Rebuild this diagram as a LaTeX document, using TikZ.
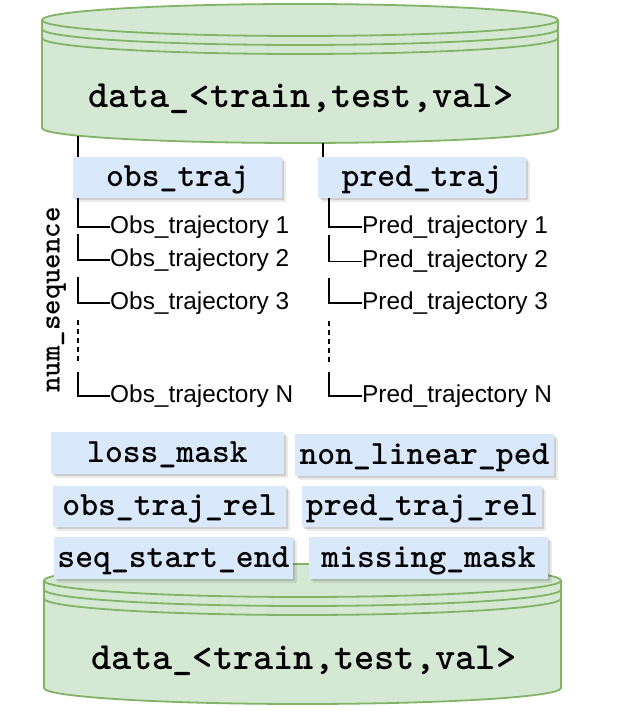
\documentclass[tikz,border=0pt]{standalone}
\usepackage{fontspec}
\newfontfamily\arialf{Liberation Sans}
\usetikzlibrary{shadows}
\definecolor{cylfill}{HTML}{D5E8D4}
\definecolor{cyldraw}{HTML}{82B366}
\definecolor{boxfill}{HTML}{DAE8FC}
\tikzset{
  cyl/.style={draw=cyldraw, line width=1.8pt, fill=cylfill},
  cylline/.style={draw=cyldraw, line width=1.8pt},
  dbtitle/.style={font=\fontsize{38.5}{40}\selectfont\ttfamily\bfseries, anchor=base, inner sep=0pt},
  field/.style={fill=boxfill, inner sep=0pt,
    font=\fontsize{34}{36}\selectfont\ttfamily\bfseries,
    text height=22pt, text depth=3pt,
    drop shadow={shadow xshift=2pt, shadow yshift=-2pt, opacity=.12, fill=black},
    drop shadow={shadow xshift=4pt, shadow yshift=-4pt, opacity=.08, fill=black}},
  traj/.style={font=\arialf\fontsize{24.4}{26}\selectfont, anchor=west, inner sep=0pt},
  tree/.style={line width=1.3pt, black},
}
\begin{document}
\begin{tikzpicture}[x=1pt, y=1pt]
\useasboundingbox[fill=white] (0,0) rectangle (621,711);

% top cylinder
\path[cyl] (42,691) arc[start angle=180, end angle=0, x radius=258, y radius=16]
  -- (558,583) arc[start angle=0, end angle=-180, x radius=258, y radius=15] -- cycle;
\draw[cylline] (42,691) arc[start angle=180, end angle=360, x radius=258, y radius=16];
\draw[cylline] (42,682) arc[start angle=180, end angle=360, x radius=258, y radius=16];
\draw[cylline] (42,673) arc[start angle=180, end angle=360, x radius=258, y radius=16];
\node[dbtitle] (ttop) at (301,603) {data\_<train,test,val>};

% bottom cylinder
\path[cyl] (44,130.5) arc[start angle=180, end angle=0, x radius=258.5, y radius=16.5]
  -- (561,23) arc[start angle=0, end angle=-180, x radius=258.5, y radius=16] -- cycle;
\draw[cylline] (44,130.5) arc[start angle=180, end angle=360, x radius=258.5, y radius=16.5];
\draw[cylline] (44,121.5) arc[start angle=180, end angle=360, x radius=258.5, y radius=16.5];
\draw[cylline] (44,112.5) arc[start angle=180, end angle=360, x radius=258.5, y radius=16.5];
\node[dbtitle] (tbot) at (304,41) {data\_<train,test,val>};

% field boxes
\node[field, minimum width=209pt, minimum height=41pt] (obs) at (177.5,533.5) {obs\_traj};
\node[field, minimum width=208pt, minimum height=41pt] (pred) at (422,533.5) {pred\_traj};
\node[field, minimum width=233pt, minimum height=42pt] (loss) at (167.5,258) {loss\_mask};
\node[field, minimum width=259pt, minimum height=42pt] (nonlin) at (424.5,256) {non\_linear\_ped};
\node[field, minimum width=233pt, minimum height=41pt] (obsrel) at (169.5,204.5) {obs\_traj\_rel};
\node[field, minimum width=240pt, minimum height=41pt] (predrel) at (422,204.5) {pred\_traj\_rel};
\node[field, minimum width=239pt, minimum height=42pt] (seq) at (173.5,153) {seq\_start\_end};
\node[field, minimum width=239pt, minimum height=42pt] (miss) at (428.5,153) {missing\_mask};

% num_sequence label
\node[rotate=90, anchor=base, inner sep=0pt, font=\fontsize{29.5}{31}\selectfont\ttfamily\bfseries] (ns) at (59.5,411) {num\_sequence};

% connectors from the top cylinder
\coordinate (c1) at (78,575.4);
\coordinate (c2) at (323,568);
\draw[tree] (c1) -- (obs.north -| c1);
\draw[tree] (c2) -- (pred.north -| c2);

% observed trajectories
\node[traj] (o1) at (110,484) {Obs\_trajectory 1};
\node[traj] (o2) at (110,451) {Obs\_trajectory 2};
\node[traj] (o3) at (110,408) {Obs\_trajectory 3};
\node[traj] (oN) at (110,315) {Obs\_trajectory N};
\coordinate (lx) at (78,0);
\coordinate (l2) at (78,477);
\coordinate (l3) at (78,434);
\coordinate (ld1) at (78,391);
\coordinate (ld2) at (78,348);
\coordinate (l4) at (78,339);
\draw[tree] (obs.south -| lx) |- (o1.west);
\draw[tree] (l2) |- (o2.west);
\draw[tree] (l3) |- (o3.west);
\draw[tree, dash pattern=on 5pt off 4pt] (ld1) -- (ld2);
\draw[tree] (l4) |- (oN.west);

% predicted trajectories
\node[traj] (p1) at (362,484) {Pred\_trajectory 1};
\node[traj] (p2) at (362,449.5) {Pred\_trajectory 2};
\node[traj] (p3) at (362,408) {Pred\_trajectory 3};
\node[traj] (pN) at (362,315) {Pred\_trajectory N};
\coordinate (rx) at (329,0);
\coordinate (r2) at (329,476);
\coordinate (r3) at (329,433);
\coordinate (rd1) at (329,390);
\coordinate (rd2) at (329,348);
\coordinate (r4) at (329,339);
\draw[tree] (pred.south -| rx) |- (p1.west);
\draw[tree] (r2) |- (p2.west);
\draw[tree] (r3) |- (p3.west);
\draw[tree, dash pattern=on 5pt off 4pt] (rd1) -- (rd2);
\draw[tree] (r4) |- (pN.west);
\end{tikzpicture}
\end{document}
